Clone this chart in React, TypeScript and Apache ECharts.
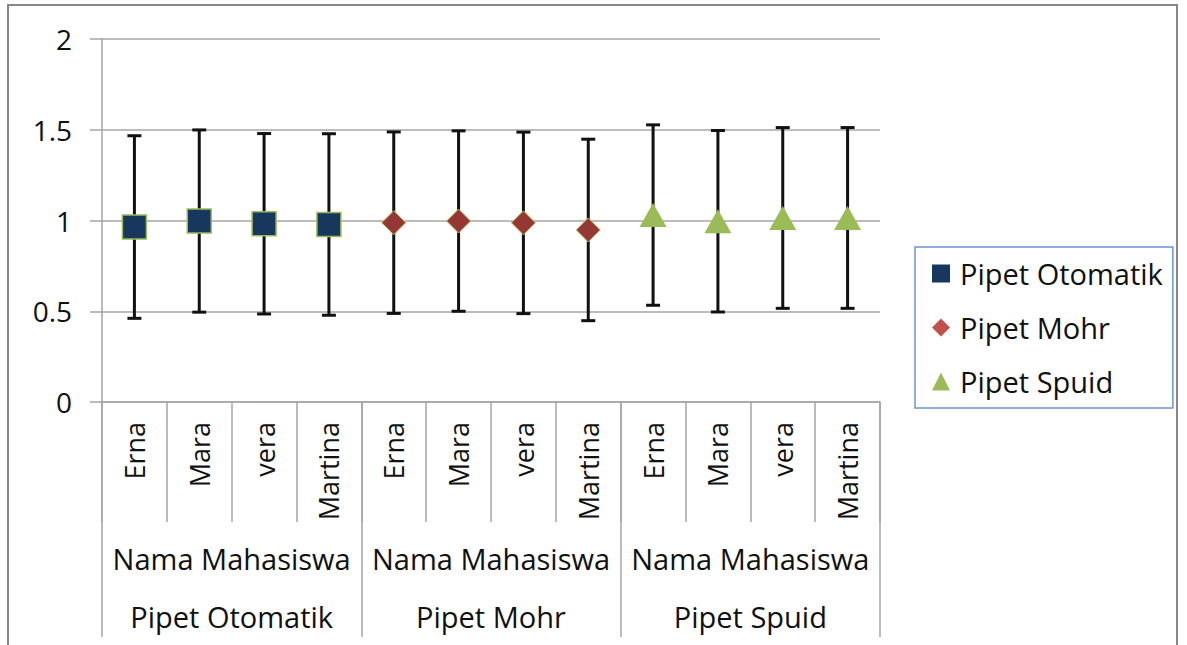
import React, { useEffect, useRef } from "react";
import * as echarts from "echarts";

const names = ["Erna", "Mara", "vera", "Martina", "Erna", "Mara", "vera", "Martina", "Erna", "Mara", "vera", "Martina"];
const groups = ["Pipet Otomatik", "Pipet Mohr", "Pipet Spuid"];
const subLabel = "Nama Mahasiswa";
const yTicks = [0, 0.5, 1, 1.5, 2];

const otomatikMean = [0.964, 0.997, 0.982, 0.978];
const otomatikErr = [0.503, 0.502, 0.497, 0.5];
const mohrMean = [0.988, 0.997, 0.987, 0.948];
const mohrErr = [0.5, 0.497, 0.5, 0.5];
const spuidMean = [1.03, 0.996, 1.014, 1.014];
const spuidErr = [0.497, 0.5, 0.498, 0.498];

const FONT = "Open Sans";
const FS = 29;
const FS_NAME = 27;
const FS_Y = 28;

export default function App() {
  const ref = useRef<HTMLDivElement>(null);
  useEffect(() => {
    const chart = echarts.init(ref.current!, null, { renderer: "svg" });
    const means = [otomatikMean, mohrMean, spuidMean];
    const errs = [otomatikErr, mohrErr, spuidErr];
    const errData: number[][] = [];
    means.forEach((arr, g) => {
      arr.forEach((m, i) => {
        const e = errs[g][i];
        errData.push([g * 4 + i, m - e, m + e]);
      });
    });
    const pts = (arr: number[], g: number) => arr.map((v, i) => [g * 4 + i, v]);
    const catIds = names.map((n, i) => n + "|" + i);
    const gray = "#a6a6a6";
    chart.setOption({
      animation: false,
      textStyle: { fontFamily: FONT },
      grid: { left: 102, right: 307, top: 39, bottom: 243 },
      graphic: [
        {
          type: "rect",
          shape: { x: 8, y: 5, width: 1169, height: 700 },
          style: { fill: "none", stroke: "#878787", lineWidth: 2 },
          silent: true,
        },
      ],
      legend: {
        orient: "vertical",
        left: 915,
        top: 247,
        padding: [12, 10, 12, 17],
        itemGap: 25,
        itemWidth: 18,
        itemHeight: 18,
        borderColor: "#6d94d0",
        borderWidth: 1.5,
        textStyle: { fontFamily: FONT, fontSize: FS, color: "#111", padding: [0, 0, 0, 5] },
        data: [
          { name: "Pipet Otomatik", icon: "rect", itemStyle: { color: "#17375e", borderWidth: 0, opacity: 1 } },
          { name: "Pipet Mohr", icon: "diamond", itemStyle: { color: "#c0504d", borderWidth: 0, opacity: 1 } },
          { name: "Pipet Spuid", icon: "triangle", itemStyle: { color: "#9bbb59", borderWidth: 0, opacity: 1 } },
        ],
      },
      xAxis: [
        {
          type: "category",
          data: catIds,
          boundaryGap: true,
          position: "bottom",
          axisLine: { show: true, lineStyle: { color: gray, width: 1.5 } },
          axisTick: { show: true, interval: 0, length: 120, lineStyle: { color: gray, width: 1.5 } },
          axisLabel: {
            interval: 0,
            rotate: 90,
            margin: 20,
            fontFamily: FONT,
            fontSize: FS_NAME,
            color: "#111",
            formatter: (v: string) => v.split("|")[0],
          },
          splitLine: { show: false },
        },
        {
          type: "category",
          data: groups.map((g) => g + "#sub"),
          boundaryGap: true,
          position: "bottom",
          axisLine: { show: false },
          axisTick: { show: true, interval: 0, length: 235, lineStyle: { color: gray, width: 1.5 } },
          axisLabel: {
            interval: 0,
            margin: 142,
            fontFamily: FONT,
            fontSize: FS,
            color: "#111",
            formatter: () => subLabel,
          },
        },
        {
          type: "category",
          data: groups,
          boundaryGap: true,
          position: "bottom",
          axisLine: { show: false },
          axisTick: { show: false },
          axisLabel: {
            interval: 0,
            margin: 200,
            fontFamily: FONT,
            fontSize: FS,
            color: "#111",
          },
        },
      ],
      yAxis: {
        type: "value",
        min: yTicks[0],
        max: yTicks[yTicks.length - 1],
        interval: 0.5,
        axisLine: { show: true, lineStyle: { color: gray, width: 1.5 } },
        axisTick: { show: true, length: 12, lineStyle: { color: gray, width: 1.5 } },
        axisLabel: { margin: 30, fontFamily: FONT, fontSize: FS_Y, color: "#111" },
        splitLine: { show: true, lineStyle: { color: gray, width: 1.5 } },
      },
      series: [
        {
          type: "custom",
          name: "err",
          xAxisIndex: 0,
          z: 1,
          data: errData,
          encode: { x: 0, y: [1, 2] },
          renderItem: (params: any, api: any) => {
            const x = api.value(0);
            const lo = api.coord([x, api.value(1)]);
            const hi = api.coord([x, api.value(2)]);
            const hw = 7;
            const st = { stroke: "#111", lineWidth: 3 };
            return {
              type: "group",
              children: [
                { type: "line", shape: { x1: lo[0], y1: lo[1], x2: hi[0], y2: hi[1] }, style: st },
                { type: "line", shape: { x1: lo[0] - hw, y1: lo[1], x2: lo[0] + hw, y2: lo[1] }, style: st },
                { type: "line", shape: { x1: hi[0] - hw, y1: hi[1], x2: hi[0] + hw, y2: hi[1] }, style: st },
              ],
            };
          },
        },
        {
          type: "scatter",
          name: "Pipet Otomatik",
          xAxisIndex: 0,
          z: 3,
          symbol: "rect",
          symbolSize: 24,
          itemStyle: { color: "#17375e", borderColor: "#9bbb59", borderWidth: 1.5, opacity: 1 },
          data: pts(otomatikMean, 0),
        },
        {
          type: "scatter",
          name: "Pipet Mohr",
          xAxisIndex: 0,
          z: 3,
          symbol: "diamond",
          symbolSize: 24,
          itemStyle: { color: "#953735", borderColor: "#b5c260", borderWidth: 1, opacity: 1 },
          data: pts(mohrMean, 1),
        },
        {
          type: "scatter",
          name: "Pipet Spuid",
          xAxisIndex: 0,
          z: 3,
          symbol: "triangle",
          symbolSize: [27, 24],
          itemStyle: { color: "#9bbb59", opacity: 1 },
          data: pts(spuidMean, 2),
        },
      ],
    });
    return () => chart.dispose();
  }, []);
  return (
    <div
      ref={ref}
      style={{ position: "fixed", left: 0, top: 0, width: 1187, height: 645, background: "#fff" }}
    />
  );
}
